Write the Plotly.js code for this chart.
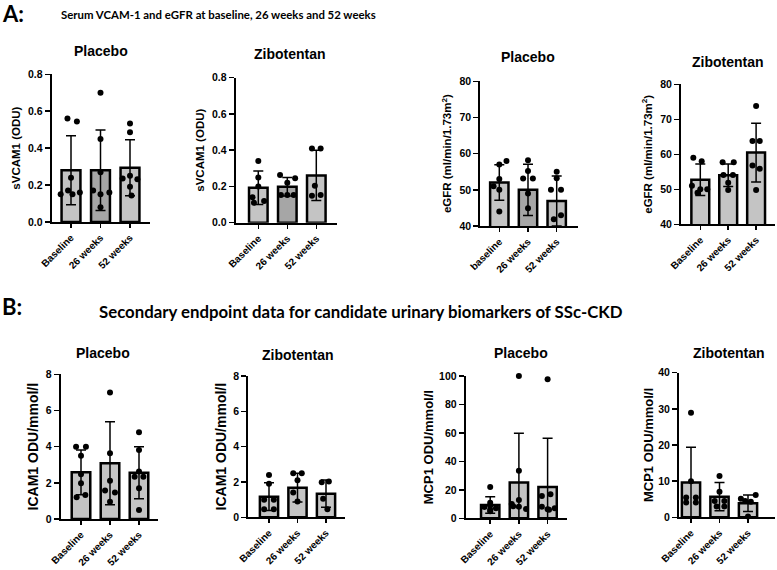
<!DOCTYPE html>
<html><head><meta charset="utf-8">
<script src="https://cdn.plot.ly/plotly-3.0.1.min.js"></script>
<style>html,body{margin:0;padding:0;background:#fff}</style>
</head><body><div id="chart" style="width:777px;height:570px"></div>
<script>
// ---------- DATA ----------
const categories = ['Baseline', '26 weeks', '52 weeks'];
const categoriesLower = ['baseline', '26 weeks', '52 weeks'];

// A: serum sVCAM1 (ODU)
const sVCAM1PlaceboMean = [0.28, 0.28, 0.294];
const sVCAM1PlaceboSD = [0.187, 0.218, 0.152];
const sVCAM1PlaceboPts = [[0.56, 0.545, 0.24, 0.17, 0.15, 0.15, 0.16], [0.70, 0.45, 0.27, 0.17, 0.15, 0.16, 0.08], [0.533, 0.486, 0.236, 0.251, 0.231, 0.191, 0.144]];
const sVCAM1ZiboMean = [0.193, 0.199, 0.261];
const sVCAM1ZiboSD = [0.092, 0.051, 0.139];
const sVCAM1ZiboPts = [[0.34, 0.25, 0.20, 0.14, 0.12, 0.11], [0.263, 0.245, 0.22, 0.153, 0.153, 0.153], [0.41, 0.41, 0.204, 0.153, 0.149]];
// A: eGFR
const eGFRPlaceboMean = [52.0, 50.0, 46.9];
const eGFRPlaceboSD = [4.9, 7.1, 6.9];
const eGFRPlaceboPts = [[57, 58, 53, 51, 50, 44], [58.2, 55.2, 53.1, 53.1, 49, 44.9], [55, 53.2, 50, 50, 43, 41.9]];
const eGFRZiboMean = [52.7, 54.0, 60.5];
const eGFRZiboSD = [4.5, 3.2, 8.4];
const eGFRZiboPts = [[59, 58, 51, 50, 50, 49], [57.7, 57.7, 54.1, 54.1, 51.9, 49.8], [73.8, 63.8, 63.8, 56.8, 55.9, 49.8]];
// B: urinary ICAM1
const ICAM1PlaceboMean = [2.58, 3.08, 2.56];
const ICAM1PlaceboSD = [1.24, 2.29, 1.44];
const ICAM1PlaceboPts = [[4, 4, 3.49, 2.47, 1.97, 1.2, 1.33], [6.99, 3.63, 2.12, 1.57, 1.46, 0.96], [4.8, 3.82, 2.62, 2.34, 2.34, 1.70, 0.50]];
const ICAM1ZiboMean = [1.17, 1.68, 1.34];
const ICAM1ZiboSD = [0.79, 0.81, 0.77];
const ICAM1ZiboPts = [[2.4, 1.9, 1.0, 1.0, 0.45, 0.45], [2.5, 2.5, 2.1, 1.4, 0.9], [2.02, 1.98, 1.05, 0.45]];
// B: urinary MCP1
const MCP1PlaceboMean = [9.4, 25.1, 22.0];
const MCP1PlaceboSD = [5.8, 34.6, 34.2];
const MCP1PlaceboPts = [[22, 11, 9, 8, 7, 6, 5], [100, 33.5, 12.9, 10, 8.5, 8.2, 6.6], [97.7, 16.9, 15.7, 8.2, 7.0, 6.3, 6.0]];
const MCP1ZiboMean = [9.6, 5.7, 3.9];
const MCP1ZiboSD = [9.8, 3.9, 2.3];
const MCP1ZiboPts = [[28.9, 10, 5.5, 5.5, 4.1, 4.1], [11.4, 7.1, 4.5, 4.5, 3.0, 3.0], [6.2, 5.1, 4.5, 4.3, 0.2]];

// y tick values for each panel
const ticksVCAM = [0, 0.2, 0.4, 0.6, 0.8];
const ticksEGFR = [40, 50, 60, 70, 80];
const ticksICAM = [0, 2, 4, 6, 8];
const ticksMCP1P = [0, 20, 40, 60, 80, 100];
const ticksMCP1Z = [0, 10, 20, 30, 40];

// ---------- LAYOUT / STYLE ----------
const W = 777, H = 570;
const FONT = 'Liberation Sans, Arial, sans-serif';
const TFONT = 'Lato, Calibri, sans-serif';
const LIGHT = '#c4c4c4', DARK = '#a6a6a6';
// horizontal jitter of the dots (category units) – placement only
const jit = {
  a1: [[-0.12, 0.2, 0, -0.1, -0.35, 0.05, 0.3], [0, 0, 0, -0.25, 0, 0.3, 0], [0, 0, -0.25, 0, 0.25, 0, 0.05]],
  a2: [[0, 0, 0, -0.2, 0.2, -0.15], [-0.25, 0.27, 0, -0.22, 0, 0.22], [-0.15, 0.15, -0.05, 0.15, -0.15]],
  a3: [[0, 0.25, 0, -0.2, 0, 0], [0, 0, -0.17, 0.17, 0, 0], [0, 0, -0.2, 0.15, 0.15, -0.1]],
  a4: [[-0.25, 0.05, -0.3, 0, 0.25, -0.1], [-0.2, 0.2, -0.17, 0.17, 0, 0], [0, -0.13, 0.13, -0.13, 0.13, 0]],
  b1: [[-0.17, 0.17, 0, 0, 0, -0.15, 0.15], [0, 0, 0, -0.17, 0.17, 0], [0, 0, 0, -0.15, 0.15, 0, 0]],
  b2: [[0, 0, -0.17, 0.17, -0.17, 0.17], [-0.15, 0.15, 0, -0.15, 0], [0.1, -0.15, -0.1, 0.05]],
  b3: [[0, 0, 0, -0.2, 0.2, 0, 0], [0, 0, 0, -0.25, -0.2, 0, 0.25], [0, 0.1, -0.2, -0.2, 0.25, 0, 0.05]],
  b4: [[0, 0, -0.17, 0.17, -0.17, 0.17], [0, 0, -0.17, 0.17, -0.1, 0.17], [0.27, -0.25, -0.1, 0.1, 0]]
};

const panels = [
  {key:'a1', title:'Placebo', tx:100.8, ty:50.7, cats:categories, mean:sVCAM1PlaceboMean, sd:sVCAM1PlaceboSD, pts:sVCAM1PlaceboPts,
   colors:[LIGHT, DARK, LIGHT], L:51.7, R:150, c0:71, s:29.5, yb:222, yt:74.3, yt2:ticksVCAM, dec:1, ytitle:'sVCAM1 (ODU)', ysize:11.5, so:5},
  {key:'a2', title:'Zibotentan', tx:289.7, ty:54, cats:categories, mean:sVCAM1ZiboMean, sd:sVCAM1ZiboSD, pts:sVCAM1ZiboPts,
   colors:[LIGHT, DARK, LIGHT], L:235.7, R:336.7, c0:258.3, s:29, yb:222.7, yt:77.7, yt2:ticksVCAM, dec:1, ytitle:'sVCAM1 (ODU)', ysize:11.5, so:5},
  {key:'a3', title:'Placebo', tx:528.3, ty:57.3, cats:categoriesLower, mean:eGFRPlaceboMean, sd:eGFRPlaceboSD, pts:eGFRPlaceboPts,
   colors:[LIGHT, DARK, '#bdbdbd'], L:480.3, R:577.7, c0:499.3, s:28.7, yb:226, yt:81.3, yt2:ticksEGFR, dec:0, ytitle:'eGFR (ml/min/1.73m<sup>2</sup>)', ysize:11.5, so:5},
  {key:'a4', title:'Zibotentan', tx:728, ty:62.3, cats:categories, mean:eGFRZiboMean, sd:eGFRZiboSD, pts:eGFRZiboPts,
   colors:[LIGHT, LIGHT, LIGHT], L:681, R:775, c0:700.3, s:27.9, yb:224.3, yt:84.3, yt2:ticksEGFR, dec:0, ytitle:'eGFR (ml/min/1.73m<sup>2</sup>)', ysize:11.5, so:5},
  {key:'b1', title:'Placebo', tx:102.8, ty:353.3, cats:categories, mean:ICAM1PlaceboMean, sd:ICAM1PlaceboSD, pts:ICAM1PlaceboPts,
   colors:[LIGHT, LIGHT, LIGHT], L:60.7, R:158, c0:81, s:29, yb:519, yt:374.3, yt2:ticksICAM, dec:0, ytitle:'ICAM1 ODU/mmol/l', ysize:14, so:4},
  {key:'b2', title:'Zibotentan', tx:297.5, ty:355, cats:categories, mean:ICAM1ZiboMean, sd:ICAM1ZiboSD, pts:ICAM1ZiboPts,
   colors:[LIGHT, LIGHT, LIGHT], L:248.3, R:345, c0:269, s:28.5, yb:517.3, yt:376, yt2:ticksICAM, dec:0, ytitle:'ICAM1 ODU/mmol/l', ysize:14, so:3},
  {key:'b3', title:'Placebo', tx:520.8, ty:352.7, cats:categories, mean:MCP1PlaceboMean, sd:MCP1PlaceboSD, pts:MCP1PlaceboPts,
   colors:[LIGHT, LIGHT, LIGHT], L:465.7, R:566.7, c0:490.2, s:28.7, yb:518.3, yt:376, yt2:ticksMCP1P, dec:0, ytitle:'MCP1 ODU/mmol/l', ysize:13, so:3},
  {key:'b4', title:'Zibotentan', tx:728.8, ty:353.3, cats:categories, mean:MCP1ZiboMean, sd:MCP1ZiboSD, pts:MCP1ZiboPts,
   colors:[LIGHT, LIGHT, LIGHT], L:679, R:775, c0:691, s:28.5, yb:517.3, yt:372.7, yt2:ticksMCP1Z, dec:0, ytitle:'MCP1 ODU/mmol/l', ysize:13, so:2}
];

const traces = [];
const layout = {
  width: W, height: H, autosize: false,
  margin: {l:0, r:0, t:0, b:0},
  paper_bgcolor: '#fff', plot_bgcolor: 'rgba(0,0,0,0)',
  font: {family: FONT, color: '#000', size: 10},
  showlegend: false,
  annotations: [],
  bargap: 0
};

panels.forEach((p, i) => {
  const n = i + 1;
  const xa = n === 1 ? 'x' : 'x' + n;
  const ya = n === 1 ? 'y' : 'y' + n;
  const idx = p.cats.map((c, k) => k);
  traces.push({
    type: 'bar', x: idx, y: p.mean, width: 0.64, xaxis: xa, yaxis: ya,
    marker: {color: p.colors, line: {color: '#000', width: 2.5}},
    error_y: {type: 'data', array: p.sd, visible: true, color: '#000', thickness: 1.5, width: 5},
    hoverinfo: 'skip', showlegend: false
  });
  const dx = [], dy = [];
  p.pts.forEach((grp, k) => grp.forEach((v, j) => { dx.push(k + jit[p.key][k][j]); dy.push(v); }));
  traces.push({
    type: 'scatter', mode: 'markers', x: dx, y: dy, xaxis: xa, yaxis: ya,
    marker: {color: '#000', size: 6}, cliponaxis: false, hoverinfo: 'skip', showlegend: false
  });
  const xr = [(p.L - p.c0) / p.s, (p.R - p.c0) / p.s];
  const yv = p.yt2;
  layout['xaxis' + (n === 1 ? '' : n)] = {
    domain: [p.L / W, p.R / W], range: xr, anchor: ya,
    tickmode: 'array', tickvals: idx, ticktext: p.cats.map(c => '<b>' + c + '</b>'), tickangle: -45,
    ticks: 'outside', ticklen: 4, tickwidth: 1.5, tickcolor: '#000',
    showline: true, linewidth: 2, linecolor: '#000', showgrid: false, zeroline: false,
    tickfont: {family: FONT, size: 10, color: '#000'}, fixedrange: true
  };
  layout['yaxis' + (n === 1 ? '' : n)] = {
    domain: [1 - p.yb / H, 1 - p.yt / H], range: [yv[0], yv[yv.length - 1]], anchor: xa,
    tickmode: 'array', tickvals: yv, ticktext: yv.map(v => '<b>' + v.toFixed(p.dec) + '</b>'),
    ticks: 'outside', ticklen: 5, tickwidth: 1.5, tickcolor: '#000',
    showline: true, linewidth: 2, linecolor: '#000', showgrid: false, zeroline: false,
    tickfont: {family: FONT, size: 10.5, color: '#000'},
    title: {text: '<b>' + p.ytitle + '</b>', standoff: p.so, font: {family: FONT, size: p.ysize, color: '#000'}},
    fixedrange: true
  };
  layout.annotations.push({
    text: '<b>' + p.title + '</b>', xref: 'paper', yref: 'paper', x: p.tx / W, y: 1 - p.ty / H,
    xanchor: 'center', yanchor: 'middle', showarrow: false,
    font: {family: FONT, size: 14, color: '#000'}
  });
});

// section headings
const headings = [
  {text: 'A:', x: 0, y: 13.5, anchor: 'left', size: 22},
  {text: 'Serum VCAM-1 and eGFR at baseline, 26 weeks and 52 weeks', x: 218.5, y: 14.7, anchor: 'center', size: 11.4},
  {text: 'B:', x: 0, y: 306, anchor: 'left', size: 22},
  {text: 'Secondary endpoint data for candidate urinary biomarkers of SSc-CKD', x: 360.5, y: 311.5, anchor: 'center', size: 16.8}
];
headings.forEach(h => layout.annotations.push({
  text: '<b>' + h.text + '</b>', xref: 'paper', yref: 'paper', x: h.x / W, y: 1 - h.y / H,
  xanchor: h.anchor, yanchor: 'middle', showarrow: false,
  font: {family: TFONT, size: h.size, color: '#000'}
}));

Plotly.newPlot('chart', traces, layout, {staticPlot: true});
</script></body></html>
